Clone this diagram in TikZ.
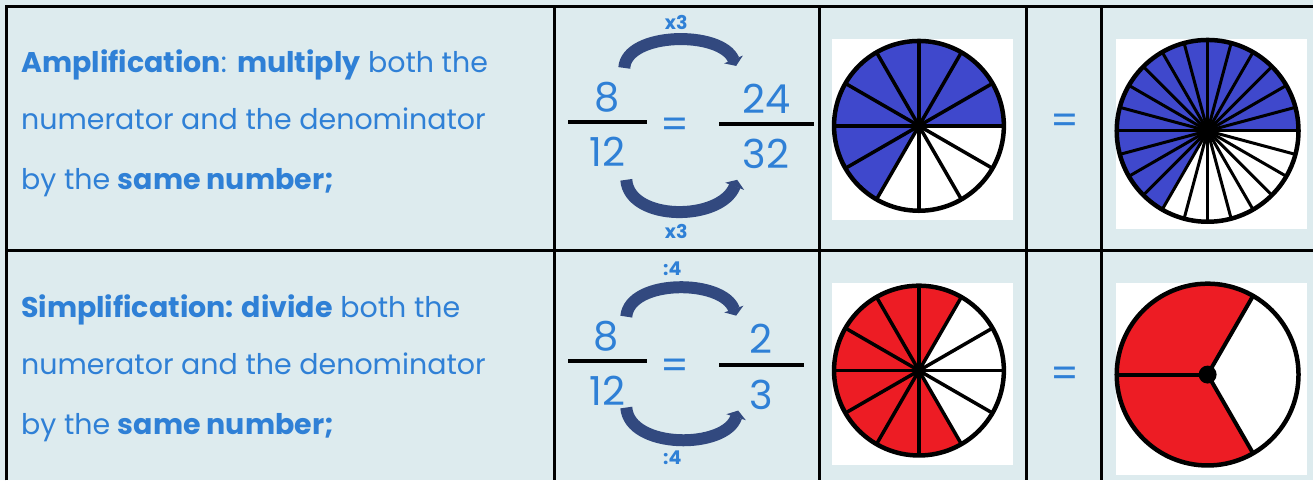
\documentclass[tikz,border=0pt]{standalone}
\usepackage{fontspec}
\setmainfont{Poppins}
\usetikzlibrary{arrows.meta}
\definecolor{cellbg}{HTML}{DDEBEE}
\definecolor{txtblue}{HTML}{2F80D6}
\definecolor{arcnavy}{HTML}{32497F}
\definecolor{pieblue}{HTML}{3F48CC}
\definecolor{piered}{HTML}{ED1C24}

\begin{document}
\begin{tikzpicture}[x=1pt,y=-1pt,
  grid/.style={line width=3pt},
  line/.style={anchor=base west,inner sep=0pt,text=txtblue,font=\fontsize{28.5}{34}\selectfont},
  num/.style={inner sep=0pt,text=txtblue,font=\fontsize{40}{44}\selectfont},
  op/.style={inner sep=0pt,text=txtblue,font=\bfseries\fontsize{19}{22}\selectfont},
  bar/.style={line width=4pt},
  turn/.style={arcnavy,line width=12pt,-{Triangle[length=7pt,width=20pt]}},
  spoke/.style={line width=3.5pt},
  rim/.style={line width=4.5pt}]

  % table
  \fill[cellbg] (0,0) rectangle (1314,481);
  \draw[grid] (7,481) -- (7,7) -- (1314,7);
  \draw[grid] (7,251) -- (1314,251);
  \foreach \x in {555,820,1028,1103}
    \draw[grid] (\x,7) -- (\x,481);

  % rules
  \node[line] (amp1) at (21,73) {\textbf{Amplification}: \textbf{multiply} both the};
  \node[line] (amp2) at (21,130) {numerator and the denominator};
  \node[line] (amp3) at (21,190) {by the \textbf{same number;}};
  \node[line] (sim1) at (21,318) {\textbf{Simplification: divide} both the};
  \node[line] (sim2) at (21,375) {numerator and the denominator};
  \node[line] (sim3) at (21,435) {by the \textbf{same number;}};

  % amplification
  \node[num] (a8) at (608,97) {8};
  \node[num] (a12) at (608,152) {12};
  \node[num] (aeq) at (676,128) {=};
  \node[num] (a24) at (767,99) {24};
  \node[num] (a32) at (767,154) {32};
  \draw[bar] (569,122) -- (648,122);
  \draw[bar] (720,124) -- (815,124);
  \node[op] (amulT) at (677,22) {x3};
  \node[op] (amulB) at (677,232) {x3};
  \coordinate (aTs) at (625,68);
  \coordinate (aTe) at (737,66);
  \coordinate (aBs) at (627,180);
  \coordinate (aBe) at (738,180);
  \draw[turn] (aTs) .. controls (627,32) and (722,30) .. (aTe);
  \draw[turn] (aBs) .. controls (630,222) and (722,222) .. (aBe);

  % simplification
  \node[num] (b8) at (607,337) {8};
  \node[num] (b12) at (608,391) {12};
  \node[num] (beq) at (676,370) {=};
  \node[num] (b2) at (762,339) {2};
  \node[num] (b3) at (762,395) {3};
  \draw[bar] (569,361) -- (648,361);
  \draw[bar] (720,365) -- (805,365);
  \node[op] (bdivT) at (673,269) {:4};
  \node[op] (bdivB) at (673,458) {:4};
  \coordinate (bTs) at (627,317);
  \coordinate (bTe) at (737,316);
  \coordinate (bBs) at (627,408);
  \coordinate (bBe) at (739,411);
  \draw[turn] (bTs) .. controls (630,279) and (724,279) .. (bTe);
  \draw[turn] (bBs) .. controls (630,450) and (727,450) .. (bBe);

  \node[num] (eqA) at (1066,124) {=};
  \node[num] (eqB) at (1066,378) {=};

  % pies
  \fill[white] (833,39) rectangle (1014,220);
  \begin{scope}[shift={(920,126)},yscale=-1]
    \fill[pieblue] (0,0) -- (0:85) arc[start angle=0,end angle=240,radius=85] -- cycle;
    \foreach \a in {0,30,...,330}
      \draw[spoke] (0,0) -- (\a:85);
    \draw[rim] (0,0) circle (85);
    \fill (0,0) circle (6);
  \end{scope}

  \fill[white] (1117,39) rectangle (1308,229);
  \begin{scope}[shift={(1209,131)},yscale=-1]
    \fill[pieblue] (0,0) -- (0:91) arc[start angle=0,end angle=240,radius=91] -- cycle;
    \foreach \a in {0,15,...,345}
      \draw[spoke,line width=3pt] (0,0) -- (\a:91);
    \draw[rim] (0,0) circle (91);
    \fill (0,0) circle (8);
  \end{scope}

  \fill[white] (833,283) rectangle (1014,466);
  \begin{scope}[shift={(920,371)},yscale=-1]
    \fill[piered] (0,0) -- (60:85) arc[start angle=60,end angle=300,radius=85] -- cycle;
    \foreach \a in {0,30,...,330}
      \draw[spoke] (0,0) -- (\a:85);
    \draw[rim] (0,0) circle (85);
    \fill (0,0) circle (6);
  \end{scope}

  \fill[white] (1117,283) rectangle (1308,476);
  \begin{scope}[shift={(1209,375)},yscale=-1]
    \fill[piered] (0,0) -- (60:91) arc[start angle=60,end angle=300,radius=91] -- cycle;
    \foreach \a in {60,180,300}
      \draw[spoke,line width=4pt] (0,0) -- (\a:91);
    \draw[rim] (0,0) circle (91);
    \fill (0,0) circle (9);
  \end{scope}
\end{tikzpicture}
\end{document}
